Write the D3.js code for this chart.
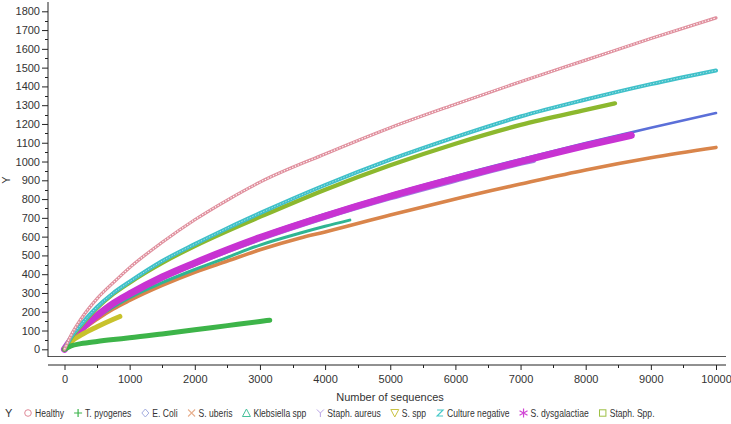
<!DOCTYPE html>
<html><head><meta charset="utf-8">
<script src="https://cdn.jsdelivr.net/npm/d3@7"></script>
<style>
html,body{margin:0;padding:0;background:#fff;}
svg{display:block;font-family:"Liberation Sans",Arial,sans-serif;}
</style></head>
<body><svg id="chart" width="731" height="424"></svg>
<script>
// ---- data ----
const seriesNames = ["Healthy","T. pyogenes","E. Coli","S. uberis","Klebsiella spp","Staph. aureus","S. spp","Culture negative","S. dysgalactiae","Staph. Spp."];
const healthyX = [0,100,250,500,750,1000,1500,2000,2500,3000,4000,5000,6000,7000,8000,9000,10000];
const healthyY = [0,75,160,270,355,435,570,690,795,890,1040,1180,1305,1425,1540,1655,1765];
const tpyoX = [0,100,250,500,750,1000,1500,2000,2500,3000,3150];
const tpyoY = [0,18,30,42,52,61,82,104,126,148,155];
const ecoliX = [0,100,250,500,750,1000,1500,2000,2500,3000,4000,5000,6000,7000,8000,9000,10000];
const ecoliY = [0,52,108,185,250,300,392,468,538,603,720,825,922,1012,1098,1180,1258];
const uberisX = [0,100,250,500,750,1000,1500,2000,2500,3000,3620,4000,5000,6000,6570,7000,8000,9000,10000];
const uberisY = [0,45,95,160,215,260,340,410,470,530,593,625,715,800,847,880,955,1020,1075];
const klebX = [0,100,250,500,750,1000,1500,2000,2500,3000,3620,4000,4380];
const klebY = [0,50,100,170,225,275,355,425,490,555,619,655,688];
const aureusX = [0,100,250,500,750,1000,1500,2000,2500,3000,4000,5000,6000,7000,7200];
const aureusY = [0,48,102,176,240,290,380,455,524,588,703,806,900,990,1005];
const sppX = [0,100,250,500,750,850];
const sppY = [0,40,75,120,160,175];
const cultnegX = [0,100,250,500,750,1000,1500,2000,2500,3000,4000,5000,6000,7000,8000,9000,10000];
const cultnegY = [0,65,130,225,300,360,470,560,645,725,875,1010,1130,1240,1330,1412,1485];
const dysgX = [0,100,250,500,750,1000,1500,2000,2500,3000,4000,5000,6000,7000,8000,8700];
const dysgY = [0,50,105,180,245,295,385,460,530,595,710,815,910,1000,1085,1140];
const staphsppX = [0,100,250,500,750,1000,1500,2000,2500,3000,4000,5000,6000,7000,8000,8450];
const staphsppY = [0,60,125,220,295,355,460,550,630,705,850,980,1095,1195,1275,1310];
const xTicks = [0,1000,2000,3000,4000,5000,6000,7000,8000,9000,10000];
const yTicks = [0,100,200,300,400,500,600,700,800,900,1000,1100,1200,1300,1400,1500,1600,1700,1800];

// ---- styles ----
const style = {
  "Healthy":          {line:"#e0909e", w:3.2, legend:"#e08a98", sym:"circle", tex:true},
  "T. pyogenes":      {line:"#3db449", w:5,   legend:"#3cb44b", sym:"plus"},
  "E. Coli":          {line:"#5b6fd8", w:2.6, legend:"#a3acdf", sym:"diamond"},
  "S. uberis":        {line:"#d9854b", w:3.6, legend:"#e8b08e", sym:"cross"},
  "Klebsiella spp":   {line:"#2fb592", w:3,   legend:"#45c09a", sym:"tri"},
  "Staph. aureus":    {line:"#a080e0", w:5,   legend:"#b9a3e6", sym:"y"},
  "S. spp":           {line:"#c8c22c", w:5,   legend:"#c9c243", sym:"tridown"},
  "Culture negative": {line:"#3fc0c9", w:4,   legend:"#45c8c8", sym:"z", tex:true},
  "S. dysgalactiae":  {line:"#c833d2", w:7,   legend:"#d045d4", sym:"star"},
  "Staph. Spp.":      {line:"#8cb82e", w:4.2, legend:"#9ec045", sym:"square"}
};
const seriesData = {
  "Healthy":[healthyX,healthyY], "T. pyogenes":[tpyoX,tpyoY], "E. Coli":[ecoliX,ecoliY],
  "S. uberis":[uberisX,uberisY], "Klebsiella spp":[klebX,klebY], "Staph. aureus":[aureusX,aureusY],
  "S. spp":[sppX,sppY], "Culture negative":[cultnegX,cultnegY], "S. dysgalactiae":[dysgX,dysgY],
  "Staph. Spp.":[staphsppX,staphsppY]
};
const drawOrder = ["E. Coli","Staph. aureus","S. uberis","Klebsiella spp","S. dysgalactiae","S. spp","Staph. Spp.","Culture negative","T. pyogenes","Healthy"];

const svg = d3.select("#chart");
const x = d3.scaleLinear().domain([0,10000]).range([64.5,716]);
const y = d3.scaleLinear().domain([0,1800]).range([349.3,11.3]);
const axisColor = "#222", textColor = "#333";

// frame line
svg.append("line").attr("x1",48).attr("x2",726).attr("y1",356.5).attr("y2",356.5).attr("stroke","#555").attr("stroke-width",1);

// Y axis
const gy = svg.append("g").attr("transform","translate(48,0)");
gy.append("line").attr("x1",0).attr("x2",0).attr("y1",2).attr("y2",357).attr("stroke",axisColor);
gy.selectAll(".minor").data(d3.range(50,1800,100)).enter().append("line")
  .attr("x1",-3).attr("x2",0).attr("y1",d=>Math.round(y(d))+0.5).attr("y2",d=>Math.round(y(d))+0.5).attr("stroke",axisColor);
gy.call(d3.axisLeft(y).tickValues(yTicks).tickSize(6).tickFormat(d3.format("d")))
  .call(g=>g.select(".domain").remove())
  .call(g=>g.selectAll("line").attr("stroke",axisColor))
  .call(g=>g.selectAll("text").attr("fill",textColor).style("font-size","11px").attr("x",-8));
svg.append("text").attr("transform","translate(10,180) rotate(-90)").attr("text-anchor","middle")
  .attr("fill",textColor).style("font-size","11px").text("Y");

// X axis
const gx = svg.append("g").attr("transform","translate(0,365)");
gx.append("line").attr("x1",48).attr("x2",726).attr("y1",0).attr("y2",0).attr("stroke",axisColor);
gx.selectAll(".minor").data(d3.range(500,10000,1000)).enter().append("line")
  .attr("x1",d=>Math.round(x(d))+0.5).attr("x2",d=>Math.round(x(d))+0.5).attr("y1",0).attr("y2",3).attr("stroke",axisColor);
gx.call(d3.axisBottom(x).tickValues(xTicks).tickSize(5).tickFormat(d3.format("d")))
  .call(g=>g.select(".domain").remove())
  .call(g=>g.selectAll("line").attr("stroke",axisColor))
  .call(g=>g.selectAll("text").attr("fill",textColor).style("font-size","11px").attr("y",10));
svg.append("text").attr("x",390).attr("y",401).attr("text-anchor","middle")
  .attr("fill",textColor).style("font-size","11px").text("Number of sequences");

// lines
const line = d3.line().x(d=>x(d[0])).y(d=>y(d[1])).curve(d3.curveMonotoneX);
const plot = svg.append("g");
drawOrder.forEach(name=>{
  const [xs,ys] = seriesData[name];
  const pts = xs.map((v,i)=>[v,ys[i]]);
  const st = style[name];
  plot.append("path").attr("d",line(pts)).attr("fill","none").attr("stroke",st.line)
    .attr("stroke-width",st.w).attr("stroke-linecap","round").attr("stroke-linejoin","round");
  if(st.tex){
    plot.append("path").attr("d",line(pts)).attr("fill","none").attr("stroke","#fff")
      .attr("stroke-width",name==="Healthy"?1.1:0.9).attr("stroke-dasharray","1.4 1.6").attr("opacity",name==="Healthy"?0.95:0.6);
  }
});

// legend (condensed text, laid out sequentially)
const lg = svg.append("g").attr("transform","translate(0,417)");
lg.append("text").attr("x",5).attr("y",0).attr("fill",textColor).style("font-size","11px").text("Y");
function drawSym(g,cx,cy,type,c){
  const s = 3.5;
  switch(type){
    case "circle": g.append("circle").attr("cx",cx).attr("cy",cy).attr("r",3.3).attr("fill","none").attr("stroke",c); break;
    case "plus": g.append("path").attr("d",`M${cx-4},${cy}H${cx+4}M${cx},${cy-4}V${cy+4}`).attr("stroke",c).attr("stroke-width",1.2); break;
    case "diamond": g.append("path").attr("d",`M${cx},${cy-4}L${cx+3.5},${cy}L${cx},${cy+4}L${cx-3.5},${cy}Z`).attr("fill","none").attr("stroke",c); break;
    case "cross": g.append("path").attr("d",`M${cx-s},${cy-s}L${cx+s},${cy+s}M${cx+s},${cy-s}L${cx-s},${cy+s}`).attr("stroke",c).attr("stroke-width",1.1); break;
    case "tri": g.append("path").attr("d",`M${cx},${cy-4}L${cx+4},${cy+3.5}L${cx-4},${cy+3.5}Z`).attr("fill","none").attr("stroke",c); break;
    case "tridown": g.append("path").attr("d",`M${cx-4},${cy-3.5}L${cx+4},${cy-3.5}L${cx},${cy+4}Z`).attr("fill","none").attr("stroke",c); break;
    case "y": g.append("path").attr("d",`M${cx-3.5},${cy-3.5}L${cx},${cy}L${cx+3.5},${cy-3.5}M${cx},${cy}V${cy+4}`).attr("fill","none").attr("stroke",c); break;
    case "z": g.append("path").attr("d",`M${cx-3},${cy-3}H${cx+3}L${cx-3},${cy+3}H${cx+3}`).attr("fill","none").attr("stroke",c).attr("stroke-width",1.1); break;
    case "star": g.append("path").attr("d",`M${cx},${cy-4.5}V${cy+4.5}M${cx-4},${cy-2.3}L${cx+4},${cy+2.3}M${cx+4},${cy-2.3}L${cx-4},${cy+2.3}`).attr("stroke",c).attr("stroke-width",1.2); break;
    case "square": g.append("rect").attr("x",cx-3.2).attr("y",cy-3.2).attr("width",6.4).attr("height",6.4).attr("fill","none").attr("stroke",c); break;
  }
}
const sx = 0.78;
let cur = 28;
seriesNames.forEach((name,i)=>{
  drawSym(lg,cur,-4,style[name].sym,style[name].legend);
  const t = lg.append("text").attr("transform",`translate(${cur+7},0) scale(${sx},1)`)
    .attr("fill",textColor).style("font-size","11px").text(name);
  const w = t.node().getComputedTextLength()*sx;
  cur = cur + 7 + w + 14;
});
</script></body></html>
